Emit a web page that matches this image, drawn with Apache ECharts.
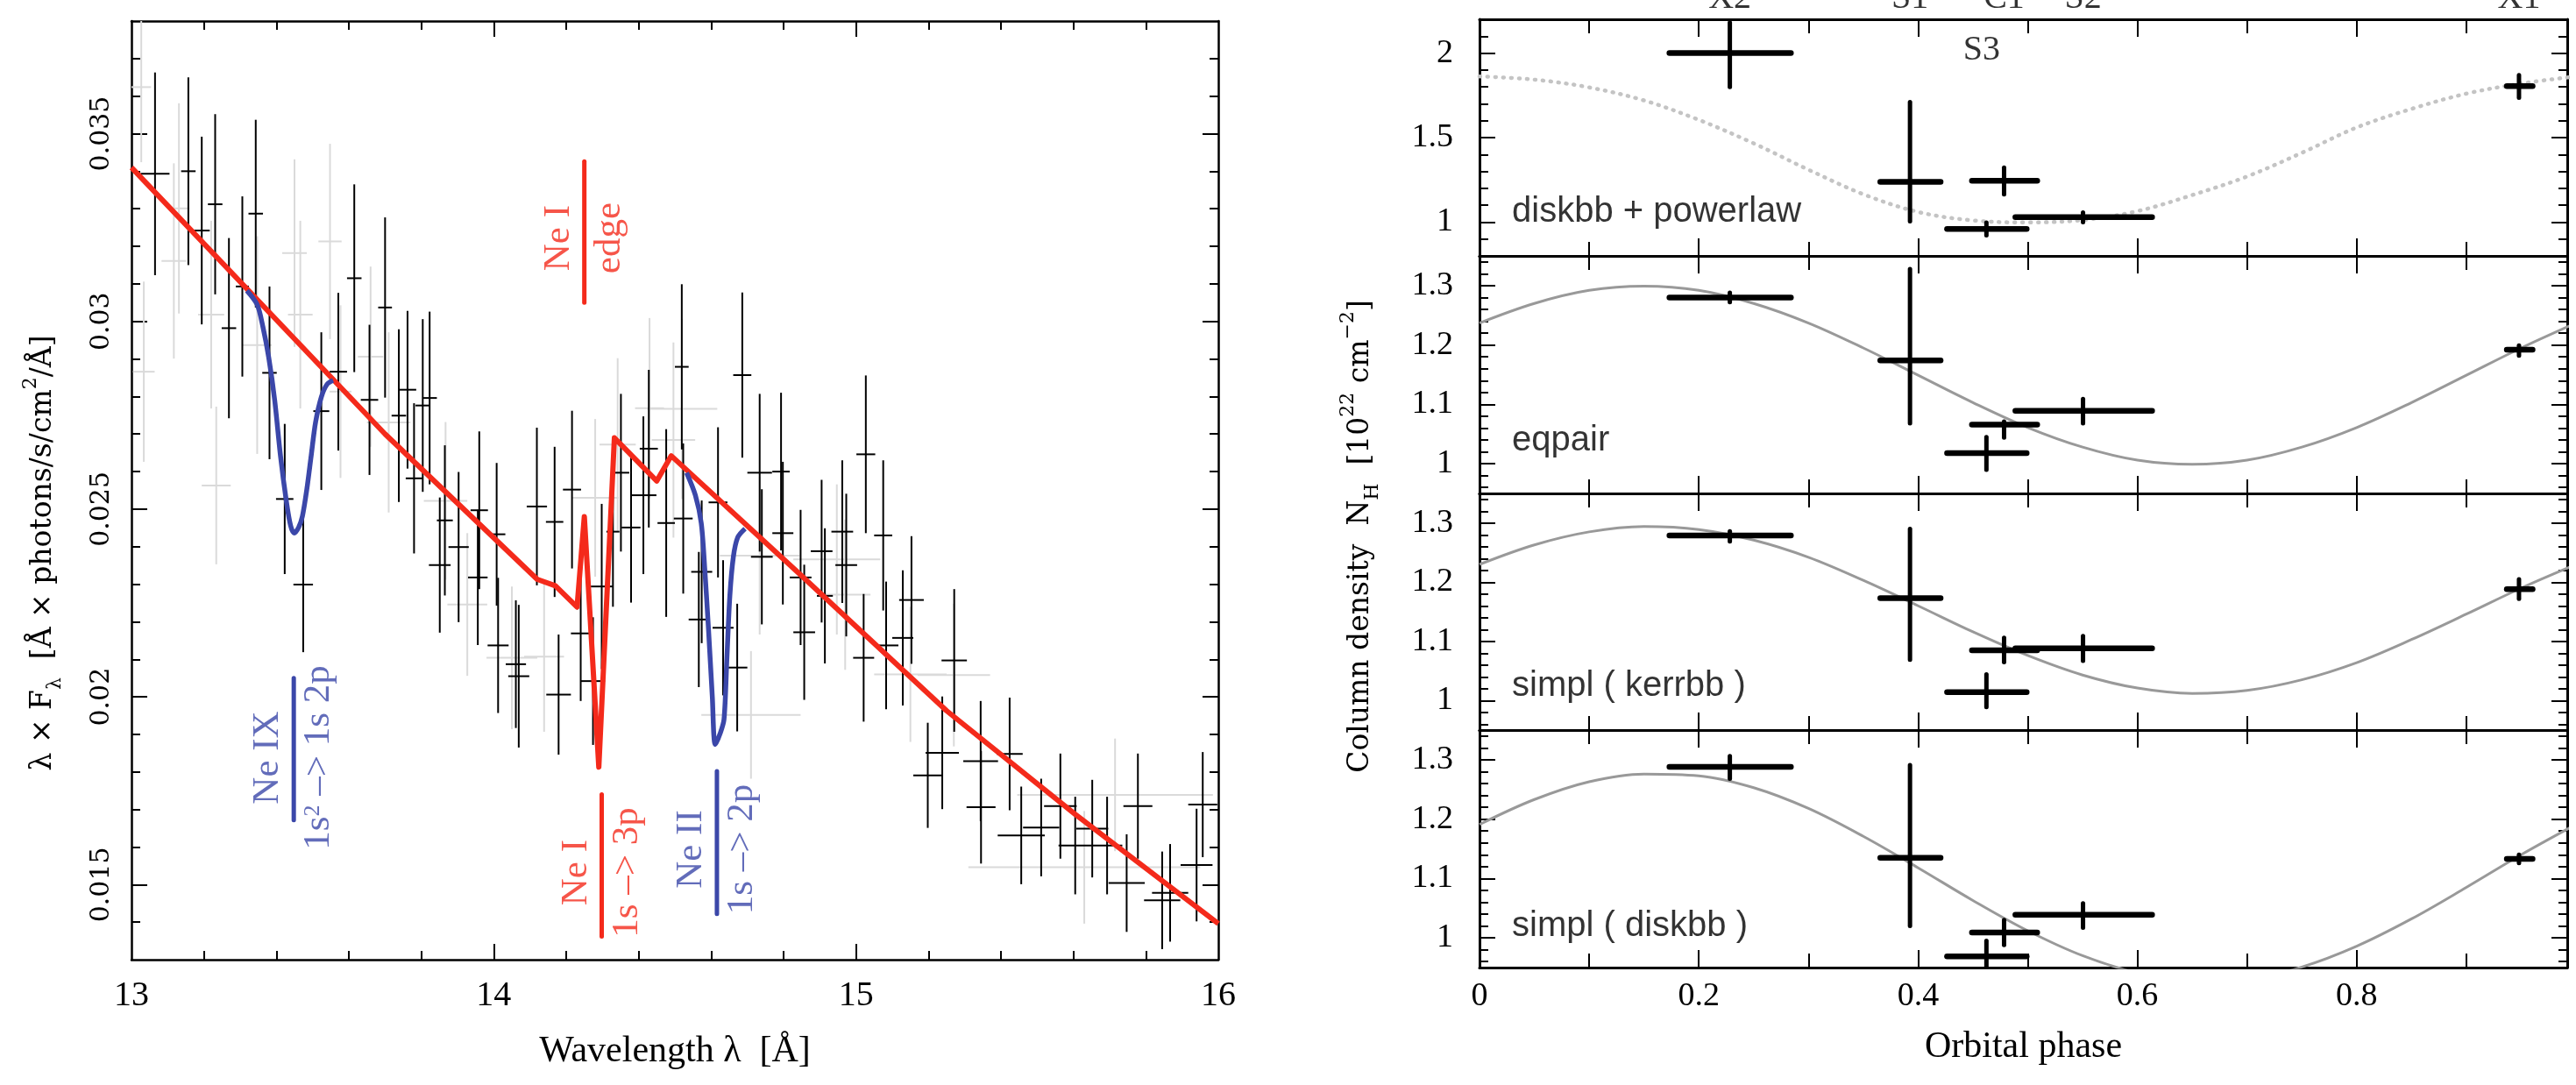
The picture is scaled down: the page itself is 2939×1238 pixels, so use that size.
<!DOCTYPE html>
<html><head><meta charset="utf-8">
<script src="https://cdn.jsdelivr.net/npm/echarts@6/dist/echarts.min.js"></script>
<style>html,body{margin:0;padding:0;background:#fff}#c{width:2939px;height:1238px}</style>
</head><body><div id="c"></div>
<script>
// ================= LEFT PANEL: spectrum =================
const blackLam = [13.065,13.157,13.194,13.231,13.269,13.306,13.343,13.381,13.423,13.474,13.524,13.571,13.615,13.657,13.700,13.738,13.762,13.780,13.804,13.823,13.851,13.865,13.903,13.956,13.960,14.008,14.012,14.061,14.069,14.119,14.168,14.179,14.216,14.240,14.274,14.298,14.329,14.351,14.379,14.413,14.428,14.476,14.519,14.523,14.566,14.574,14.619,14.633,14.672,14.686,14.734,14.740,14.793,14.798,14.847,14.857,14.905,14.914,14.962,14.973,15.021,15.027,15.075,15.083,15.129,15.153,15.198,15.238,15.271,15.344,15.345,15.424,15.456,15.511,15.564,15.605,15.652,15.693,15.747,15.778,15.845,15.867,15.940,15.957];
const blackFlux = [0.03393,0.0340,0.03242,0.03312,0.02982,0.03093,0.03287,0.02863,0.02527,0.02299,0.02761,0.02866,0.03115,0.02791,0.03037,0.02749,0.02818,0.02582,0.02776,0.02796,0.02351,0.0247,0.02399,0.02318,0.02497,0.02433,0.02137,0.02087,0.02055,0.02507,0.02466,0.02006,0.02552,0.02169,0.02042,0.02294,0.0244,0.02597,0.02451,0.02537,0.02661,0.02463,0.02879,0.02475,0.02206,0.02333,0.02518,0.02184,0.02078,0.02857,0.02597,0.02373,0.026,0.02436,0.02318,0.02172,0.02388,0.02269,0.0244,0.02351,0.02104,0.02646,0.0243,0.02137,0.02157,0.02258,0.01791,0.01851,0.02097,0.01829,0.01706,0.01848,0.01631,0.01652,0.01709,0.01604,0.01649,0.01604,0.01504,0.01709,0.01458,0.01478,0.01552,0.01713];
const blackErr = [0.0027,0.0025,0.0025,0.0024,0.0024,0.0024,0.0025,0.0023,0.002,0.0018,0.0021,0.0021,0.0025,0.002,0.0024,0.0023,0.0021,0.002,0.0023,0.0023,0.0018,0.002,0.002,0.0018,0.0021,0.0019,0.0018,0.0017,0.0019,0.0021,0.002,0.0016,0.0021,0.0018,0.0017,0.0022,0.002,0.0021,0.002,0.0021,0.0021,0.0025,0.0022,0.002,0.0018,0.0019,0.002,0.0018,0.0017,0.0022,0.0021,0.0018,0.0021,0.0019,0.0018,0.0018,0.0019,0.0018,0.0019,0.0019,0.0017,0.0021,0.002,0.0017,0.0018,0.0017,0.0014,0.0015,0.0019,0.0016,0.0015,0.0015,0.0013,0.0013,0.0014,0.0013,0.0013,0.0013,0.0013,0.0014,0.0013,0.0013,0.0015,0.0014];
const blackHalfW = [0.04,0.02,0.022,0.02,0.02,0.018,0.02,0.02,0.024,0.027,0.022,0.024,0.02,0.024,0.019,0.02,0.024,0.023,0.02,0.02,0.03,0.022,0.028,0.027,0.024,0.024,0.029,0.028,0.029,0.028,0.024,0.034,0.025,0.027,0.033,0.03,0.018,0.023,0.026,0.036,0.025,0.024,0.019,0.026,0.028,0.029,0.026,0.029,0.028,0.025,0.034,0.03,0.024,0.029,0.03,0.03,0.03,0.022,0.03,0.03,0.029,0.026,0.025,0.034,0.029,0.034,0.04,0.046,0.035,0.048,0.04,0.036,0.065,0.05,0.045,0.046,0.044,0.042,0.05,0.04,0.05,0.05,0.044,0.04];

const grayLam = [13.027,13.034,13.117,13.131,13.22,13.234,13.347,13.45,13.466,13.548,13.577,13.66,13.71,13.867,13.927,14.05,14.139,14.28,14.342,14.43,14.52,14.496,14.734,14.71,14.947,14.97,15.15,15.27,15.715,15.63];
const grayFlux = [0.03624,0.02866,0.03161,0.03301,0.03018,0.02563,0.02937,0.03182,0.03018,0.03213,0.02813,0.02906,0.02731,0.02522,0.02246,0.02104,0.02107,0.0253,0.02672,0.02769,0.02767,0.02684,0.02376,0.01952,0.02366,0.02272,0.0206,0.02058,0.01739,0.01546];
const grayErr = [0.002,0.0024,0.0026,0.0028,0.0025,0.0021,0.0029,0.0025,0.0025,0.0026,0.0023,0.0024,0.0024,0.0021,0.0019,0.0019,0.002,0.0021,0.0023,0.0024,0.0024,0.0026,0.0021,0.0017,0.002,0.002,0.0018,0.0019,0.0015,0.0015];
const grayHalfW = [0.027,0.03,0.034,0.029,0.036,0.04,0.04,0.034,0.034,0.032,0.03,0.035,0.06,0.06,0.055,0.07,0.055,0.065,0.05,0.04,0.097,0.06,0.11,0.137,0.12,0.07,0.1,0.1,0.27,0.32];

const modelLam  = [13.0, 13.70, 14.12, 14.17, 14.23, 14.25, 14.29, 14.333, 14.45, 14.49, 14.84, 15.25, 15.605, 16.0];
const modelFlux = [0.0341, 0.0270, 0.02313, 0.02296, 0.02239, 0.0248, 0.01813, 0.0269, 0.02575, 0.02642, 0.02331, 0.01963, 0.01687, 0.01396];

const neIXLam  = [13.3185,13.3468,13.3629,13.379,13.3952,13.4113,13.4274,13.4395,13.4492,13.4613,13.4718,13.4839,13.496,13.5081,13.5242,13.5403,13.5565];
const neIXFlux = [0.03082,0.03045,0.02985,0.02903,0.02791,0.02642,0.02522,0.02455,0.02436,0.02451,0.02481,0.02552,0.02642,0.02731,0.02799,0.02833,0.02843];
const neIILam  = [14.5323,14.5565,14.5727,14.5823,14.5928,14.6033,14.6114,14.6251,14.6356,14.6436,14.6517,14.6614,14.6735,14.6936];
const neIIFlux = [0.02597,0.02537,0.02463,0.02343,0.02179,0.02,0.01873,0.01903,0.0194,0.02104,0.02269,0.02373,0.02425,0.02448];

const annLam    = [14.25, 13.448, 14.298, 14.616];
const annLo     = [0.0305, 0.01672, 0.01362, 0.01422];
const annHi     = [0.03426, 0.0205, 0.0174, 0.01802];
const annMid    = [0.03222, 0.01838, 0.01532, 0.01594];
const annTop    = ['Ne I', 'Ne IX', 'Ne I', 'Ne II'];
const annBottom = ['edge', '1s² –> 1s 2p', '1s –> 3p', '1s –> 2p'];
const annIsRed  = [true, false, true, false];

// ================= RIGHT PANELS: column density vs phase =================
const obsNames = ['X2', 'S1', 'C1', 'S3', 'S2', 'X1'];
const phaseMid = [0.2283, 0.3926, 0.4784, 0.4623, 0.5504, 0.9480];
const phaseLo  = [0.1732, 0.3655, 0.4491, 0.4264, 0.4887, 0.9369];
const phaseHi  = [0.2840, 0.4205, 0.5086, 0.4990, 0.6134, 0.9604];

const nhDiskbbPl   = [2.0, 1.238, 1.245, 0.96, 1.029, 1.805];
const nhDiskbbPlLo = [1.80, 1.005, 1.164, 0.922, 1.0, 1.736];
const nhDiskbbPlHi = [2.18, 1.71, 1.322, 0.997, 1.057, 1.87];

const nhEqpair   = [1.28, 1.174, 1.066, 1.018, 1.089, 1.192];
const nhEqpairLo = [1.272, 1.068, 1.044, 0.99, 1.068, 1.182];
const nhEqpairHi = [1.288, 1.328, 1.071, 1.045, 1.109, 1.199];

const nhKerrbb   = [1.279, 1.173, 1.085, 1.014, 1.088, 1.188];
const nhKerrbbLo = [1.269, 1.069, 1.065, 0.989, 1.067, 1.172];
const nhKerrbbHi = [1.286, 1.29, 1.106, 1.044, 1.109, 1.205];

const nhDiskbb   = [1.288, 1.135, 1.009, 0.969, 1.039, 1.133];
const nhDiskbbLo = [1.268, 1.02, 0.988, 0.946, 1.017, 1.126];
const nhDiskbbHi = [1.306, 1.291, 1.03, 0.995, 1.058, 1.14];

const curvePhase    = [0,0.05,0.1,0.15,0.2,0.25,0.3,0.35,0.4,0.45,0.5,0.55,0.6,0.65,0.7,0.75,0.8,0.85,0.9,0.95,1.0];
const curveDiskbbPl = [1.862,1.843,1.797,1.72,1.605,1.466,1.31,1.165,1.06,1.01,0.998,1.012,1.065,1.16,1.27,1.41,1.56,1.67,1.76,1.82,1.862];
const curveEqpair   = [1.237,1.270,1.292,1.299,1.292,1.270,1.237,1.195,1.149,1.103,1.061,1.028,1.006,0.999,1.006,1.028,1.061,1.103,1.149,1.195,1.237];
const curveKerrbb   = [1.230,1.263,1.285,1.294,1.289,1.271,1.242,1.203,1.160,1.116,1.076,1.043,1.021,1.012,1.017,1.035,1.064,1.103,1.146,1.190,1.230];
const curveDiskbb   = [1.191,1.233,1.263,1.276,1.273,1.253,1.218,1.171,1.118,1.063,1.012,0.970,0.941,0.927,0.930,0.951,0.986,1.032,1.085,1.140,1.191];

const panelNames = ['diskbb + powerlaw', 'eqpair', 'simpl ( kerrbb )', 'simpl ( diskbb )'];
const topLabelIdx = [0, 1, 2, 4, 5];

// ================= styling / layout =================
const RED = '#f42a1b', BLUE = '#3b47a9';
const SERIF = 'Liberation Serif', WSERIF = 'DejaVu Serif', SANS = 'Liberation Sans';

function ticks(a, b, step, excl) {
  const out = []; const n = Math.round((b - a) / step);
  for (let i = 0; i <= n; i++) {
    const v = +(a + i * step).toFixed(6);
    if (!excl || !excl.some(e => Math.abs(e - v) < 1e-9)) out.push(v);
  }
  return out;
}
const trim = v => String(+(+v).toFixed(4));

const xAxes = [], yAxes = [];
function frame(gi, c) {
  const r = {};
  for (const pos of ['bottom', 'top']) {
    for (const major of [true, false]) {
      const vals = major ? c.xMaj : c.xMin;
      const lab = major && pos === 'bottom' && c.xLab;
      const ax = {
        type: 'value', gridIndex: gi, position: pos, min: c.xr[0], max: c.xr[1],
        axisLine: {show: major, onZero: false, lineStyle: {color: '#000', width: c.lw}},
        splitLine: {show: false},
        axisTick: {show: vals.length > 0, inside: true, length: major ? c.xMajLen : c.xMinLen,
                   customValues: vals, lineStyle: {color: '#000', width: c.tw}},
        axisLabel: Object.assign({show: !!lab, customValues: c.xLabVals, formatter: trim, color: '#000'}, c.xLabStyle)
      };
      if (lab && c.xName) Object.assign(ax, {name: c.xName, nameLocation: 'middle', nameGap: c.xNameGap,
        nameTextStyle: {fontFamily: SERIF, fontSize: 42, color: '#000'}});
      xAxes.push(ax);
      if (pos === 'bottom' && major) r.x = xAxes.length - 1;
    }
  }
  for (const pos of ['left', 'right']) {
    for (const major of [true, false]) {
      const vals = major ? c.yMaj : c.yMin;
      const lab = major && pos === 'left';
      yAxes.push({
        type: 'value', gridIndex: gi, position: pos, min: c.yr[0], max: c.yr[1],
        axisLine: {show: major, onZero: false, lineStyle: {color: '#000', width: c.lw}},
        splitLine: {show: false},
        axisTick: {show: vals.length > 0, inside: true, length: major ? c.yMajLen : c.yMinLen,
                   customValues: vals, lineStyle: {color: '#000', width: c.tw}},
        axisLabel: Object.assign({show: lab, customValues: c.yLabVals, formatter: trim, color: '#000'}, c.yLabStyle)
      });
      if (pos === 'left' && major) r.y = yAxes.length - 1;
    }
  }
  return r;
}

const grids = [{left: 150, top: 24, width: 1240, height: 1071}];
const L = frame(0, {
  xr: [13, 16], yr: [0.013, 0.038],
  xMaj: [14, 15], xMin: ticks(13, 16, 0.2, [13, 14, 15, 16]), xLabVals: [13, 14, 15, 16], xLab: true,
  yMaj: [0.015, 0.02, 0.025, 0.03, 0.035], yMin: ticks(0.013, 0.038, 0.001, [0.013, 0.015, 0.02, 0.025, 0.03, 0.035, 0.038]),
  yLabVals: [0.015, 0.02, 0.025, 0.03, 0.035],
  xMajLen: 18, xMinLen: 10, yMajLen: 18, yMinLen: 10, lw: 2.5, tw: 2,
  xLabStyle: {fontFamily: SERIF, fontSize: 40, margin: 21},
  yLabStyle: {fontFamily: WSERIF, fontSize: 30, margin: 19, rotate: 90},
  xName: 'Wavelength λ  [Å]', xNameGap: 84
});

const panelTops = [22, 292, 563, 833], panelHeights = [270, 271, 270, 271];
const panelYr = [[0.8, 2.2], [0.95, 1.35], [0.95, 1.35], [0.95, 1.35]];
const R = [];
for (let p = 0; p < 4; p++) {
  grids.push({left: 1688, top: panelTops[p], width: 1241, height: panelHeights[p]});
  const first = p === 0;
  R.push(frame(p + 1, {
    xr: [0, 0.992], yr: panelYr[p],
    xMaj: [0.2, 0.4, 0.6, 0.8], xMin: [0.1, 0.3, 0.5, 0.7, 0.9], xLabVals: [0, 0.2, 0.4, 0.6, 0.8], xLab: p === 3,
    yMaj: first ? [1, 1.5, 2] : [1, 1.1, 1.2, 1.3],
    yMin: first ? ticks(0.8, 2.2, 0.1, [0.8, 1, 1.5, 2, 2.2]) : ticks(0.96, 1.34, 0.02, [1, 1.1, 1.2, 1.3]),
    yLabVals: first ? [1, 1.5, 2] : [1, 1.1, 1.2, 1.3],
    xMajLen: 20, xMinLen: 16, yMajLen: 18, yMinLen: 10, lw: 3, tw: 2,
    xLabStyle: {fontFamily: SERIF, fontSize: 38, margin: 14},
    yLabStyle: {fontFamily: SERIF, fontSize: 38, margin: 30},
    xName: 'Orbital phase', xNameGap: 70
  }));
}

function crossRender(color, wH, wV, cap) {
  return function (params, api) {
    const x = api.value(0), y = api.value(1);
    const a = api.coord([api.value(4), y]), b = api.coord([api.value(5), y]);
    const c = api.coord([x, api.value(2)]), d = api.coord([x, api.value(3)]);
    return {type: 'group', children: [
      {type: 'line', shape: {x1: a[0], y1: a[1], x2: b[0], y2: b[1]}, style: {stroke: color, lineWidth: wH, lineCap: cap}},
      {type: 'line', shape: {x1: c[0], y1: c[1], x2: d[0], y2: d[1]}, style: {stroke: color, lineWidth: wV, lineCap: cap}}
    ]};
  };
}
function specData(lam, flux, err, hw) {
  const n = Math.min(lam.length, flux.length, err.length, hw.length);
  const out = [];
  for (let i = 0; i < n; i++) out.push([lam[i], flux[i], flux[i] - err[i], flux[i] + err[i], lam[i] - hw[i], lam[i] + hw[i]]);
  return out;
}
const zip = (a, b) => a.map((v, i) => [v, b[i]]);

const series = [];
series.push({type: 'custom', xAxisIndex: L.x, yAxisIndex: L.y, clip: true, z: 1,
  renderItem: crossRender('#dadada', 2, 2, 'butt'), encode: {x: 0, y: 1},
  data: specData(grayLam, grayFlux, grayErr, grayHalfW)});
series.push({type: 'custom', xAxisIndex: L.x, yAxisIndex: L.y, clip: true, z: 2,
  renderItem: crossRender('#000', 2, 2, 'butt'), encode: {x: 0, y: 1},
  data: specData(blackLam, blackFlux, blackErr, blackHalfW)});
series.push({type: 'line', xAxisIndex: L.x, yAxisIndex: L.y, z: 3, symbol: 'none', silent: true,
  lineStyle: {color: RED, width: 6, join: 'round'}, data: zip(modelLam, modelFlux)});
series.push({type: 'line', xAxisIndex: L.x, yAxisIndex: L.y, z: 4, symbol: 'none', smooth: 0.3,
  lineStyle: {color: BLUE, width: 5.5}, data: zip(neIXLam, neIXFlux)});
series.push({type: 'line', xAxisIndex: L.x, yAxisIndex: L.y, z: 4, symbol: 'none', smooth: 0.3,
  lineStyle: {color: BLUE, width: 5.5}, data: zip(neIILam, neIIFlux)});
series.push({type: 'custom', xAxisIndex: L.x, yAxisIndex: L.y, z: 5, encode: {x: 0, y: 1},
  data: annLam.map((l, i) => [l, annLo[i], annHi[i], i]),
  renderItem: (params, api) => {
    const a = api.coord([api.value(0), api.value(1)]), b = api.coord([api.value(0), api.value(2)]);
    const col = annIsRed[api.value(3)] ? RED : BLUE;
    return {type: 'line', shape: {x1: a[0], y1: a[1], x2: b[0], y2: b[1]}, style: {stroke: col, lineWidth: 5, lineCap: 'round'}};
  }});
series.push({type: 'scatter', xAxisIndex: L.x, yAxisIndex: L.y, z: 6, symbolSize: 0, silent: true, clip: false,
  data: annLam.map((l, i) => ({value: [l, annMid[i], i], label: {color: annIsRed[i] ? RED : BLUE}})),
  label: {show: true, position: 'inside', rotate: 90, align: 'center', verticalAlign: 'middle',
    formatter: p => {
      const i = p.data.value[2];
      const parts = annBottom[i].split('²');
      const bottom = parts.length > 1 ? `{t|${parts[0]}}{u|2}{t|${parts[1]}}` : `{t|${parts[0]}}`;
      return `{t|${annTop[i]}}\n${bottom}`;
    },
    rich: {
      t: {fontFamily: SERIF, fontSize: 43, lineHeight: 58},
      u: {fontFamily: SERIF, fontSize: 26, lineHeight: 58, verticalAlign: 'top', padding: [9, 0, 0, 0]}
    }}});

const nhSets = [[nhDiskbbPl, nhDiskbbPlLo, nhDiskbbPlHi], [nhEqpair, nhEqpairLo, nhEqpairHi],
                [nhKerrbb, nhKerrbbLo, nhKerrbbHi], [nhDiskbb, nhDiskbbLo, nhDiskbbHi]];
const curves = [curveDiskbbPl, curveEqpair, curveKerrbb, curveDiskbb];
const labelY = [1.06, 1.038, 1.024, 1.02];
for (let p = 0; p < 4; p++) {
  const ax = {xAxisIndex: R[p].x, yAxisIndex: R[p].y};
  series.push(Object.assign({type: 'line', symbol: 'none', smooth: 0.35, z: 2, silent: true,
    lineStyle: p === 0 ? {color: '#c4c4c4', width: 4.5, type: [1, 8], cap: 'round'} : {color: '#999999', width: 3},
    data: zip(curvePhase, curves[p])}, ax));
  const [v, lo, hi] = nhSets[p];
  series.push(Object.assign({type: 'custom', clip: true, z: 3, encode: {x: 0, y: 1},
    renderItem: crossRender('#000', 6.5, 5, 'round'),
    data: phaseMid.map((m, i) => [m, v[i], lo[i], hi[i], phaseLo[i], phaseHi[i]])}, ax));
  series.push(Object.assign({type: 'scatter', symbolSize: 0, silent: true, clip: false, z: 4,
    data: [[0.0296, labelY[p]]],
    label: {show: true, position: [0, 0], align: 'left', verticalAlign: 'middle',
      formatter: () => panelNames[p], fontFamily: SANS, fontSize: 40, color: '#000'}}, ax));
}
series.push({type: 'scatter', xAxisIndex: R[0].x, yAxisIndex: R[0].y, symbolSize: 0, silent: true, clip: false, z: 5,
  data: topLabelIdx.map(i => [phaseMid[i], 2.2, i]),
  label: {show: true, position: 'top', distance: 4, formatter: p => obsNames[p.data[2]],
    fontFamily: SERIF, fontSize: 40, color: '#000'}});
series.push({type: 'scatter', xAxisIndex: R[0].x, yAxisIndex: R[0].y, symbolSize: 0, silent: true, clip: false, z: 5,
  data: [[0.458, 2.015, 3]],
  label: {show: true, position: 'inside', formatter: p => obsNames[p.data[2]],
    fontFamily: SERIF, fontSize: 40, color: '#000'}});

const option = {
  backgroundColor: '#fff', animation: false,
  grid: grids, xAxis: xAxes, yAxis: yAxes, series: series,
  graphic: [
    {type: 'text', x: 49, y: 631, rotation: Math.PI / 2, silent: true,
     style: {text: '{a|λ × F}{s|λ}{a|  [Å × photons/s/cm}{p|2}{a|/Å]}', align: 'center', verticalAlign: 'middle', fill: '#000',
       rich: {a: {fontFamily: WSERIF, fontSize: 33, lineHeight: 50}, s: {fontFamily: WSERIF, fontSize: 22, lineHeight: 50, verticalAlign: 'bottom'},
              p: {fontFamily: WSERIF, fontSize: 22, lineHeight: 50, verticalAlign: 'top'}}}},
    {type: 'text', x: 1552, y: 612, rotation: Math.PI / 2, silent: true,
     style: {text: '{a|Column density  N}{s|H}{a|  [10}{p|22}{a| cm}{p|−2}{a|]}', align: 'center', verticalAlign: 'middle', fill: '#000',
       rich: {a: {fontFamily: WSERIF, fontSize: 33, lineHeight: 50}, s: {fontFamily: WSERIF, fontSize: 22, lineHeight: 50, verticalAlign: 'bottom'},
              p: {fontFamily: WSERIF, fontSize: 22, lineHeight: 50, verticalAlign: 'top'}}}}
  ]
};
const chart = echarts.init(document.getElementById('c'), null, {width: 2939, height: 1238});
chart.setOption(option);
</script></body></html>
